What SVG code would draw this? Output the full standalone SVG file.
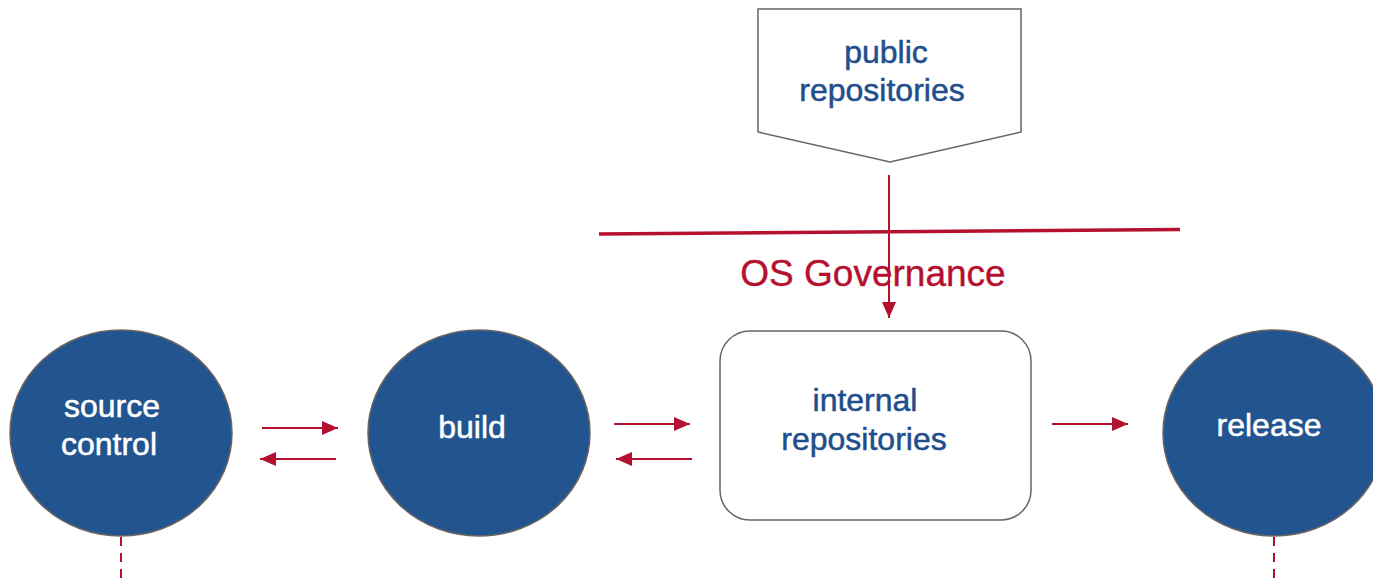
<svg xmlns="http://www.w3.org/2000/svg" width="1373" height="585" viewBox="0 0 1373 585">
<style>
.circ{fill:#22558f;stroke:#6b6462;stroke-width:1.5}
.box{fill:#fff;stroke:#6b6462;stroke-width:1.5}
.wt{font-family:"Liberation Sans",Arial,sans-serif;font-size:32px;fill:#fff;stroke:#fff;stroke-width:0.5;text-anchor:middle}
.bt{font-family:"Liberation Sans",Arial,sans-serif;font-size:32px;fill:#1f4e8c;stroke:#1f4e8c;stroke-width:0.5;text-anchor:middle}
.rt{font-family:"Liberation Sans",Arial,sans-serif;font-size:37px;fill:#b5102f;stroke:#b5102f;stroke-width:0.4;text-anchor:middle}
.arr{stroke:#b5102f;stroke-width:2;fill:none;marker-end:url(#ah)}
.dash{stroke:#b5102f;stroke-width:2;fill:none;stroke-dasharray:9 7}
</style>
<defs>
<marker id="ah" markerUnits="userSpaceOnUse" markerWidth="16" markerHeight="16" viewBox="0 0 16 16" refX="16" refY="8" orient="auto">
<path d="M0,1 L16,8 L0,15 Z" fill="#b5102f"/>
</marker>
</defs>
<rect width="1373" height="585" fill="#fff"/>
<g id="governance-line">
<line x1="599" y1="234" x2="1180" y2="229.5" stroke="#b5102f" stroke-width="3.5"/>
<text class="rt" x="873" y="286">OS Governance</text>
</g>
<g id="public-repositories">
<path class="box" d="M758,9 L1021,9 L1021,132 L890,162 L758,132 Z"/>
<text class="bt" x="886" y="63">public</text>
<text class="bt" x="882" y="101">repositories</text>
</g>
<g id="source-control">
<ellipse class="circ" cx="121" cy="433" rx="111" ry="103"/>
<text class="wt" x="112" y="417">source</text>
<text class="wt" x="109" y="455">control</text>
</g>
<g id="build">
<ellipse class="circ" cx="479" cy="433" rx="111" ry="103"/>
<text class="wt" x="472" y="438">build</text>
</g>
<g id="internal-repositories">
<rect class="box" x="720" y="331" width="311" height="189" rx="30" ry="30"/>
<text class="bt" x="865" y="411">internal</text>
<text class="bt" x="864" y="450">repositories</text>
</g>
<g id="release">
<ellipse class="circ" cx="1274" cy="433" rx="111" ry="103"/>
<text class="wt" x="1269" y="436">release</text>
</g>
<g id="connectors">
<line class="arr" x1="262" y1="428" x2="338" y2="428"/>
<line class="arr" x1="336" y1="459" x2="260" y2="459"/>
<line class="arr" x1="614" y1="424" x2="690" y2="424"/>
<line class="arr" x1="692" y1="459" x2="616" y2="459"/>
<line class="arr" x1="1052" y1="424" x2="1128" y2="424"/>
<line class="arr" x1="889" y1="175" x2="889" y2="318"/>
<line class="dash" x1="121" y1="537" x2="121" y2="585"/>
<line class="dash" x1="1274" y1="537" x2="1274" y2="585"/>
</g>
</svg>
